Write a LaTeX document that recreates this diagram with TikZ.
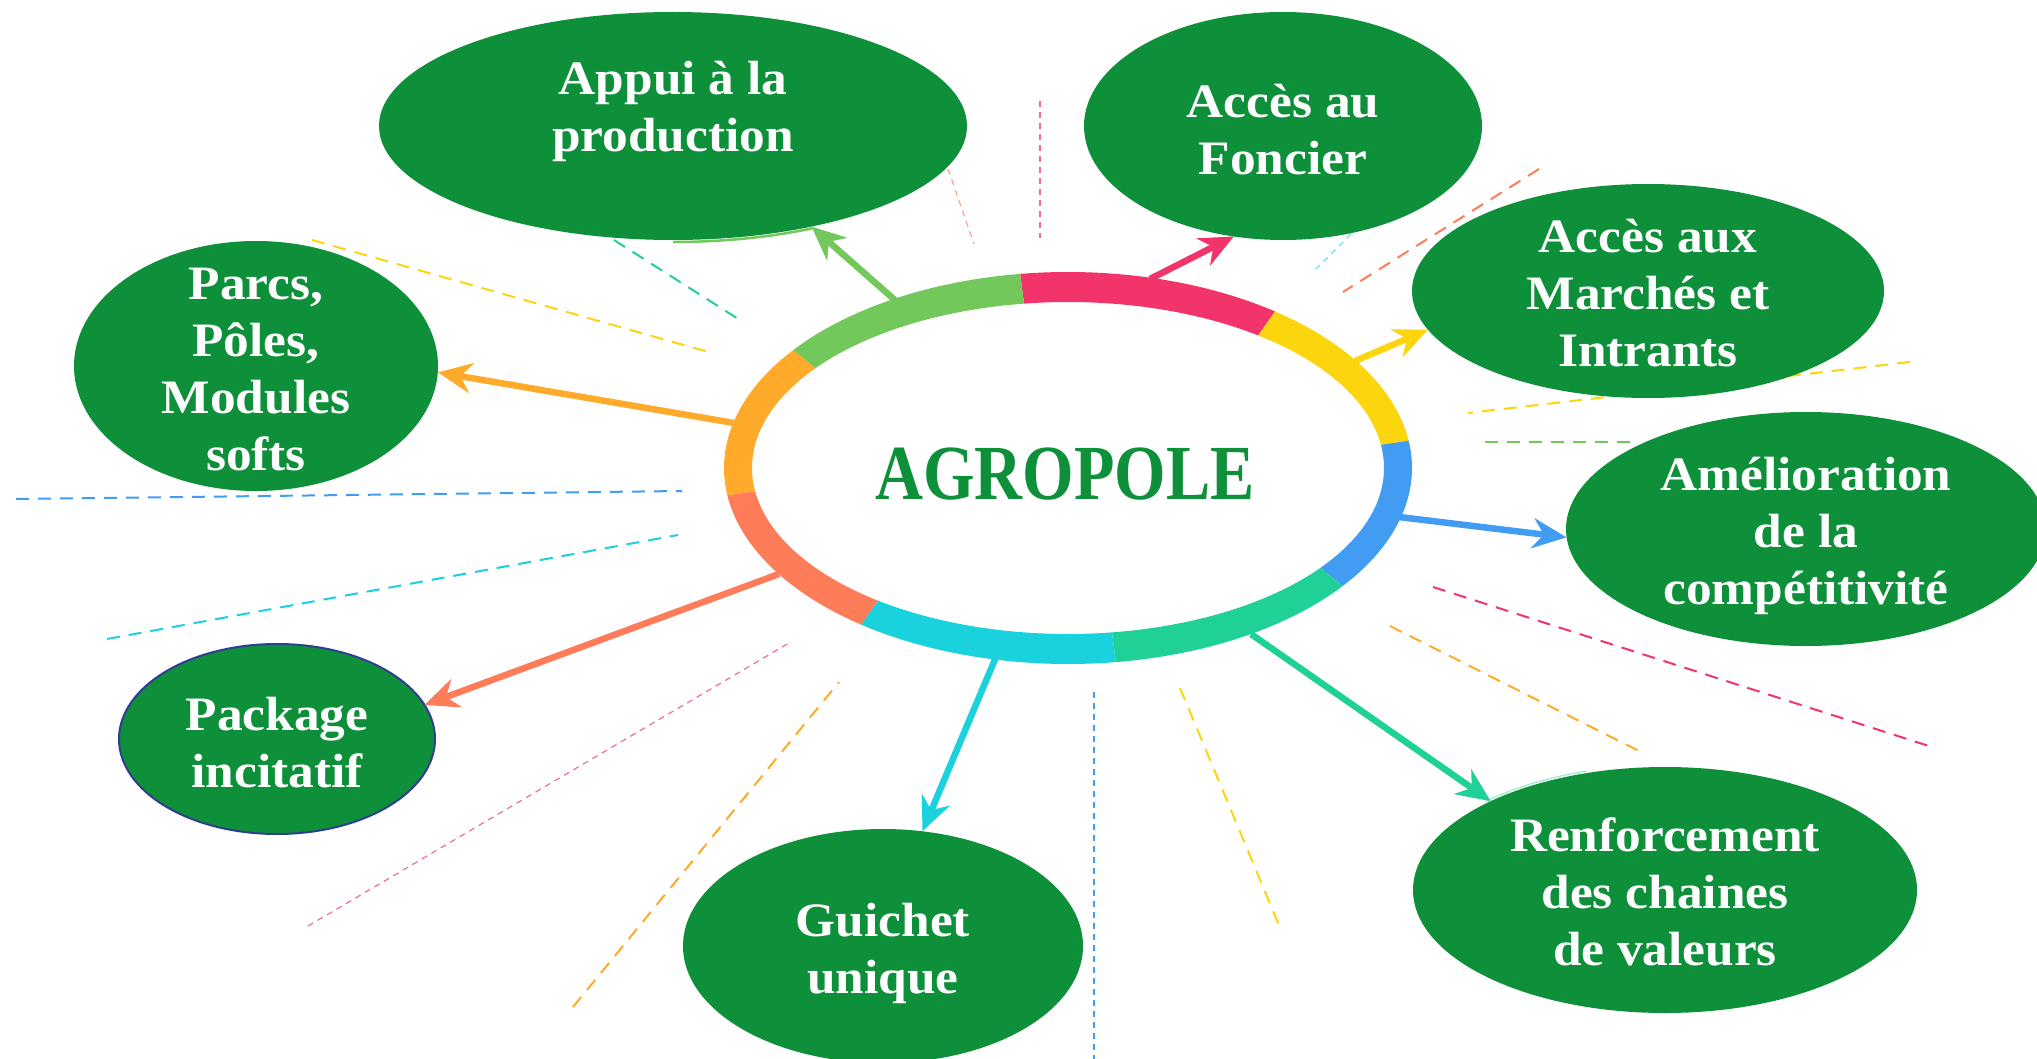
\documentclass[tikz,border=0pt]{standalone}
\usepackage{fontspec}
\setmainfont{Liberation Serif}
\newfontfamily\agrofont[FakeStretch=0.85]{Liberation Serif}
\newfontfamily\lblfont[FakeStretch=1.07]{Liberation Serif}
\usetikzlibrary{shapes.geometric,arrows.meta,calc}
\definecolor{nodegreen}{RGB}{14,144,58}
\definecolor{rgreen}{RGB}{115,200,91}
\definecolor{rpink}{RGB}{242,52,106}
\definecolor{ryellow}{RGB}{253,213,15}
\definecolor{rblue}{RGB}{65,156,242}
\definecolor{rteal}{RGB}{31,209,150}
\definecolor{rcyan}{RGB}{26,209,222}
\definecolor{rsalmon}{RGB}{255,124,88}
\definecolor{rorange}{RGB}{255,170,43}
\definecolor{pkgblue}{RGB}{47,63,143}
\definecolor{lpink}{RGB}{240,110,150}
\definecolor{lsalmon}{RGB}{255,160,138}
\definecolor{lcyan}{RGB}{120,220,238}
\begin{document}
\begin{tikzpicture}[x=1pt,y=-1pt,
  bubble/.style={ellipse, fill=nodegreen, inner sep=0pt, outer sep=0pt},
  lbl/.style={text=white, align=center, inner sep=0pt, font=\lblfont\bfseries\fontsize{48}{57}\selectfont},
  link/.style={line width=6.5pt, -{Stealth[length=34pt,width=30pt,inset=11pt]}},
  deco/.style={line width=2pt, dash pattern=on 13pt off 9pt},
  decothin/.style={line width=1.2pt, dash pattern=on 6pt off 5pt}]
\useasboundingbox (0,0) rectangle (2037,1059);
\clip (0,0) rectangle (2037,1059);
\fill[white] (0,0) rectangle (2037,1059);

% decorative dashed rays
\draw[decothin, lpink] (1040,101) -- (1040,238);
\draw[decothin, lsalmon] (948,169) -- (974,244);
\draw[deco, rteal] (614,240) -- (743,322);
\draw[deco, ryellow] (312,240) -- (712,353);
\draw[decothin, lcyan] (1351,234) -- (1312,273);
\draw[deco, rsalmon] (1539,169) -- (1343,292);
\draw[deco, ryellow] (1910,362) -- (1468,413);
\draw[deco, rgreen] (1485,442) -- (1630,442);
\draw[deco, rblue] (16,499) -- (682,491);
\draw[deco, rcyan] (107,639) -- (678,535);
\draw[decothin, lpink] (308,926) -- (789,643);
\draw[deco, rorange] (573,1007) -- (839,682);
\draw[decothin, rblue] (1094,692) -- (1094,1059);
\draw[deco, ryellow] (1180,688) -- (1281,930);
\draw[deco, rorange] (1390,626) -- (1643,753);
\draw[deco, rpink] (1433,587) -- (1932,747);

% bubbles
\node[bubble, minimum width=588, minimum height=228] (appui) at (673,126) {};
\node[bubble, minimum width=398, minimum height=228] (foncier) at (1283,126) {};
\node[bubble, minimum width=472, minimum height=214] (marches) at (1648,291) {};
\node[bubble, minimum width=364, minimum height=250] (parcs) at (256,366) {};
\node[bubble, minimum width=480, minimum height=234] (amelio) at (1806,529) {};
\node[bubble, minimum width=316, minimum height=190, draw=pkgblue, line width=2pt] (package) at (277,739) {};
\node[bubble, minimum width=400, minimum height=234] (guichet) at (883,946) {};
\node[bubble, minimum width=504, minimum height=246] (renfo) at (1665,890) {};

% thin shadow arcs under two bubbles
\draw[rgreen, line width=2.5pt] ($(appui)+(90:296 and 116)$) arc[start angle=90, end angle=62, x radius=296, y radius=116];
\draw[rteal!45, line width=1.2pt] ($(renfo)+(-135:254 and 125)$) arc[start angle=-135, end angle=-108, x radius=254, y radius=125];

\node[lbl] (t-appui) at (673,111) {Appui à la\\production};
\node[lbl, yshift=-4pt] (t-foncier) at (foncier) {Accès au\\Foncier};
\node[lbl, yshift=-2pt] (t-marches) at (marches) {Accès aux\\Marchés et\\Intrants};
\node[lbl, yshift=-4pt] (t-parcs) at (parcs) {Parcs,\\Pôles,\\Modules\\softs};
\node[lbl, yshift=-7pt] (t-amelio) at (amelio) {Amélioration\\de la\\compétitivité};
\node[lbl, yshift=-4pt] (t-package) at (package) {Package\\incitatif};
\node[lbl, yshift=-7pt] (t-guichet) at (guichet) {Guichet\\unique};
\node[lbl, yshift=-2pt] (t-renfo) at (renfo) {Renforcement\\des chaines\\de valeurs};

% arrow start points on the ring
\coordinate (s-appui) at (896,301);
\coordinate (s-foncier) at (1150,279);
\coordinate (s-marches) at (1355,361);
\coordinate (s-parcs) at (734,423);
\coordinate (s-amelio) at (1399,517);
\coordinate (s-package) at (779,574);
\coordinate (s-guichet) at (996,657);
\coordinate (s-renfo) at (1251,634);

\draw[link, rgreen] (s-appui) -- (appui.-36);
\draw[link, rpink] (s-foncier) -- (foncier.-114);
\draw[link, ryellow] (s-marches) -- (marches.190);
\draw[link, rorange] (s-parcs) -- (parcs.-2);
\draw[link, rblue] (s-amelio) -- (amelio.182);
\draw[link, rsalmon] (s-package) -- (package.13);
\draw[link, rcyan] (s-guichet) -- (guichet.71);
\draw[link, rteal] (s-renfo) -- (renfo.153);

% ring
\coordinate (c) at (1068,468);
\fill[white] (c) ellipse[x radius=330, y radius=180];
\foreach \a/\b/\col in {-98/-53/rpink, -53/-8/ryellow, -8/37/rblue, 37/82/rteal, 82/127/rcyan, 127/172/rsalmon, 172/217/rorange, 217/262/rgreen} {
  \fill[\col] ($(c)+(\a:344 and 196)$) arc[start angle=\a, end angle=\b, x radius=344, y radius=196]
    -- ($(c)+(\b:316 and 166)$) arc[start angle=\b, end angle=\a, x radius=316, y radius=166] -- cycle;
}
\node[text=nodegreen, inner sep=0pt, font=\agrofont\bfseries\fontsize{78}{80}\selectfont] (agro) at (1065,474) {AGROPOLE};
\end{tikzpicture}
\end{document}
